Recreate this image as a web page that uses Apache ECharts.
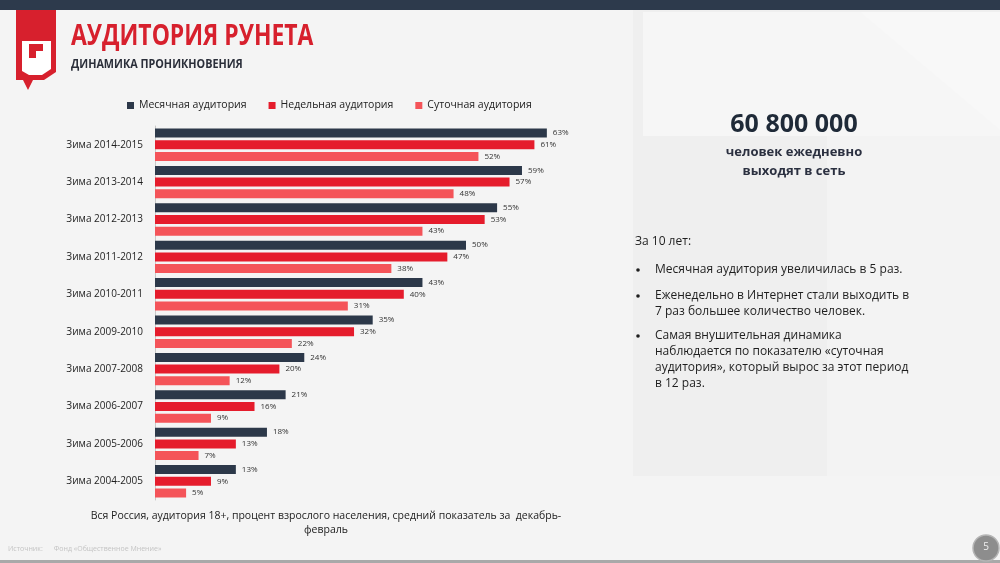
<!DOCTYPE html>
<html><head><meta charset="utf-8">
<script src="https://cdn.jsdelivr.net/npm/echarts@6/dist/echarts.min.js"></script>
<style>html,body{margin:0;padding:0;background:#f3f3f3}#c{width:1000px;height:563px}</style>
</head><body><div id="c"></div>
<script>
const categories = ['Зима 2014-2015','Зима 2013-2014','Зима 2012-2013','Зима 2011-2012','Зима 2010-2011','Зима 2009-2010','Зима 2007-2008','Зима 2006-2007','Зима 2005-2006','Зима 2004-2005'];
const seriesNames = ['Месячная аудитория','Недельная аудитория','Суточная аудитория'];
const monthly = [63,59,55,50,43,35,24,21,18,13];
const weekly  = [61,57,53,47,40,32,20,16,13,9];
const daily   = [52,48,43,38,31,22,12,9,7,5];
const colors = ['#2c3849','#e51c2c','#f45459'];
const bullets = [
  'Месячная аудитория увеличилась в 5 раз.',
  'Еженедельно в Интернет стали выходить в\n7 раз большее количество человек.',
  'Самая внушительная динамика\nнаблюдается по показателю «суточная\nаудитория», который вырос за этот период\nв 12 раз.'
];

const FONT = '"Open Sans","Noto Sans",sans-serif';
const chart = echarts.init(document.getElementById('c'), null, {renderer:'canvas'});
const mk = (name, data, i) => ({
  name, type:'bar', data, barWidth:9, barGap:'30%',
  itemStyle:{color:colors[i]},
  label:{show:true, position:'right', distance:6, formatter:'{c}%', fontSize:8, color:'#333', fontFamily:FONT},
  emphasis:{disabled:true}, animation:false
});
const bulletY = [270, 296, 336];
const graphics = [
  {type:'rect', shape:{x:0,y:10,width:633,height:550}, style:{fill:'#f4f4f4'}, z:-12},
  {type:'rect', shape:{x:643,y:12,width:357,height:124}, style:{fill:'#f6f6f6'}, z:-10},
  {type:'rect', shape:{x:827,y:136,width:173,height:340}, style:{fill:'#f3f3f3'}, z:-10},
  {type:'rect', shape:{x:633,y:476,width:367,height:84}, style:{fill:'#f4f4f4'}, z:-10},
  {type:'polygon', shape:{points:[[860,12],[1000,12],[1000,130]]}, style:{fill:'#f8f8f8'}, z:-9},
  {type:'rect', shape:{x:0,y:0,width:1000,height:10}, style:{fill:'#2d3a4c'}},
  {type:'rect', shape:{x:0,y:560,width:1000,height:3}, style:{fill:'#a9a9a9'}},
  // logo
  {type:'polygon', shape:{points:[[16,10],[56,10],[56,72],[44,80],[33,80],[28,90],[23,80],[16,80]]}, style:{fill:'#d7202d'}},
  {type:'polygon', shape:{points:[[22,41],[51,41],[51,69],[42,75],[29,75],[22,71]]}, style:{fill:'#ffffff'}},
  {type:'rect', shape:{x:29,y:44,width:14,height:14}, style:{fill:'#d7202d'}},
  {type:'rect', shape:{x:36,y:51,width:7,height:7}, style:{fill:'#ffffff'}},
  {type:'text', x:71, y:22, scaleX:0.79, style:{text:'АУДИТОРИЯ РУНЕТА', font:'bold 29px "Open Sans",sans-serif', fill:'#d7202d'}},
  {type:'text', x:71, y:59, scaleX:0.9, style:{text:'ДИНАМИКА ПРОНИКНОВЕНИЯ', font:'bold 12px '+FONT, fill:'#2b2f3a'}},
  {type:'text', x:794, y:125, style:{text:'60 800 000', font:'bold 25px '+FONT, fill:'#1f2a38', align:'center', verticalAlign:'middle'}},
  {type:'text', x:794, y:152, style:{text:'человек ежедневно', font:'bold 13px '+FONT, fill:'#2b3040', align:'center', verticalAlign:'middle'}},
  {type:'text', x:794, y:171, style:{text:'выходят в сеть', font:'bold 13px '+FONT, fill:'#2b3040', align:'center', verticalAlign:'middle'}},
  {type:'text', x:635, y:236, style:{text:'За 10 лет:', font:'12px '+FONT, fill:'#1e1e1e'}},
  {type:'text', x:326, y:509, style:{text:'Вся Россия, аудитория 18+, процент взрослого населения, средний показатель за  декабрь-\nфевраль', font:'10.5px '+FONT, fill:'#222', align:'center', lineHeight:14}},
  {type:'text', x:8, y:545, style:{text:'Источник:      Фонд «Общественное Мнение»', font:'7px '+FONT, fill:'#c4c4c4'}},
  {type:'circle', shape:{cx:986,cy:548,r:13}, style:{fill:'#8d8d8d', stroke:'#b5b5b5', lineWidth:1.5}},
  {type:'text', x:986, y:547, style:{text:'5', font:'10px '+FONT, fill:'#f0f0f0', align:'center', verticalAlign:'middle'}}
];
bullets.forEach((b, i) => {
  graphics.push({type:'circle', shape:{cx:638, cy:bulletY[i], r:1.8}, style:{fill:'#1e1e1e'}});
  graphics.push({type:'text', x:655, y:bulletY[i]-8, style:{text:b, font:'12px '+FONT, fill:'#1e1e1e', lineHeight:16}});
});

chart.setOption({
  backgroundColor:'#efefef',
  animation:false,
  textStyle:{fontFamily:FONT},
  legend:{data:seriesNames, top:95, left:122, itemWidth:7, itemHeight:7, itemGap:22, icon:'rect',
    textStyle:{fontSize:10.5, color:'#222', fontFamily:FONT}, selectedMode:false},
  grid:{left:155, top:126, width:435.4, height:374},
  xAxis:{type:'value', min:0, max:70, show:false},
  yAxis:{type:'category', data:categories, inverse:true,
    axisLine:{show:true, lineStyle:{color:'#c8c8c8', width:1}}, axisTick:{show:false},
    axisLabel:{fontSize:10, color:'#1e1e1e', margin:12, fontFamily:FONT}},
  series:[mk(seriesNames[0], monthly, 0), mk(seriesNames[1], weekly, 1), mk(seriesNames[2], daily, 2)],
  graphic:{elements:graphics}
});
</script></body></html>
